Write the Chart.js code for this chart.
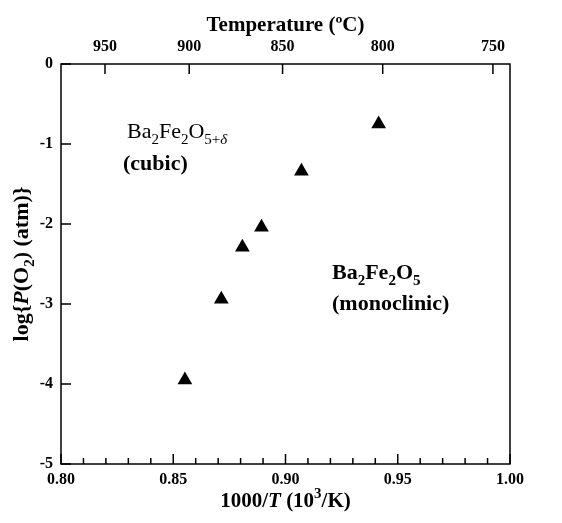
<!DOCTYPE html>
<html><head><meta charset="utf-8">
<script src="https://cdn.jsdelivr.net/npm/chart.js@4.4.1/dist/chart.umd.min.js"></script>
<style>html,body{margin:0;padding:0;background:#fff}#wrap{width:562px;height:523px;position:relative}</style>
</head><body><div id="wrap"><canvas id="c"></canvas></div>
<script>
// ---- data ----
const invT = [0.8552, 0.8714, 0.8808, 0.8893, 0.9071, 0.9415];   // 1000/T (10^3/K)
const logPO2 = [-3.95, -2.94, -2.29, -2.04, -1.34, -0.75];       // log P(O2) (atm)
const xTickValues = [0.80, 0.85, 0.90, 0.95, 1.00];
const xMinorStep = 0.01;
const yTickValues = [0, -1, -2, -3, -4, -5];
const tempTickLabels = ['950', '900', '850', '800', '750'];        // top axis (ºC)
const tempTickPos = [0.8196, 0.8571, 0.8987, 0.9433, 0.9924];    // where they sit on the 1000/T axis

const SERIF = '"Liberation Serif","Times New Roman",serif';

function drawRich(ctx, segs, x, y, size, align) {
  const parts = segs.map(s => {
    const fs = (s.sub || s.sup) ? Math.round(size * 0.7) : size;
    const font = (s.i ? 'italic ' : '') + (s.b ? 'bold ' : '') + fs + 'px ' + SERIF;
    ctx.font = font;
    return {s, font, w: ctx.measureText(s.t).width};
  });
  const total = parts.reduce((a, p) => a + p.w, 0);
  let cx = align === 'center' ? x - total / 2 : x;
  ctx.textAlign = 'left';
  ctx.textBaseline = 'alphabetic';
  for (const p of parts) {
    ctx.font = p.font;
    let dy = 0;
    if (p.s.sub) dy = size * 0.28;
    if (p.s.sup) dy = -size * 0.42;
    ctx.fillText(p.s.t, cx, y + dy);
    cx += p.w;
  }
}

const framePlugin = {
  id: 'frame',
  afterDraw(chart) {
    const {ctx, chartArea: a, scales} = chart;
    const xs = scales.x, ys = scales.y, xt = scales.xTop;
    ctx.save();
    ctx.strokeStyle = '#000';
    ctx.lineWidth = 1.5;
    ctx.strokeRect(a.left, a.top, a.right - a.left, a.bottom - a.top);
    ctx.beginPath();
    const n = Math.round((xTickValues[xTickValues.length - 1] - xTickValues[0]) / xMinorStep);
    for (let i = 0; i <= n; i++) {
      const v = xTickValues[0] + i * xMinorStep;
      const px = xs.getPixelForValue(v);
      const len = (i % 5 === 0) ? 10 : 6;
      ctx.moveTo(px, a.bottom); ctx.lineTo(px, a.bottom - len);
    }
    for (const v of yTickValues) {
      const py = ys.getPixelForValue(v);
      ctx.moveTo(a.left, py); ctx.lineTo(a.left + 10, py);
    }
    for (const v of tempTickPos) {
      const px = xt.getPixelForValue(v);
      ctx.moveTo(px, a.top); ctx.lineTo(px, a.top + 10);
    }
    ctx.stroke();

    ctx.fillStyle = '#000';
    const cxm = (a.left + a.right) / 2;
    drawRich(ctx, [{t: 'Temperature (ºC)', b: 1}], cxm, 31, 21, 'center');
    drawRich(ctx, [{t: '1000/', b: 1}, {t: 'T', b: 1, i: 1}, {t: ' (10', b: 1}, {t: '3', b: 1, sup: 1}, {t: '/K)', b: 1}], cxm, 507, 21, 'center');
    ctx.save();
    ctx.translate(28, (a.top + a.bottom) / 2);
    ctx.rotate(-Math.PI / 2);
    drawRich(ctx, [{t: 'log{', b: 1}, {t: 'P', b: 1, i: 1}, {t: '(O', b: 1}, {t: '2', b: 1, sub: 1}, {t: ') (atm)}', b: 1}], 0, 0, 22, 'center');
    ctx.restore();
    drawRich(ctx, [{t: 'Ba'}, {t: '2', sub: 1}, {t: 'Fe'}, {t: '2', sub: 1}, {t: 'O'}, {t: '5+', sub: 1}, {t: 'δ', sub: 1, i: 1}], 127, 138, 22, 'left');
    drawRich(ctx, [{t: '(cubic)', b: 1}], 123, 170, 22, 'left');
    drawRich(ctx, [{t: 'Ba', b: 1}, {t: '2', sub: 1, b: 1}, {t: 'Fe', b: 1}, {t: '2', sub: 1, b: 1}, {t: 'O', b: 1}, {t: '5', sub: 1, b: 1}], 332, 279, 22, 'left');
    drawRich(ctx, [{t: '(monoclinic)', b: 1}], 332, 310, 22, 'left');
    ctx.restore();
  }
};

const tickFont = {family: SERIF, size: 16, weight: 'bold'};

new Chart(document.getElementById('c'), {
  type: 'scatter',
  data: {
    datasets: [{
      data: invT.map((x, i) => ({x, y: logPO2[i]})),
      pointStyle: 'triangle',
      pointRadius: 8.5,
      pointHoverRadius: 8.5,
      backgroundColor: '#000',
      borderColor: '#000',
      borderWidth: 0
    }]
  },
  options: {
    responsive: true,
    maintainAspectRatio: false,
    animation: false,
    events: [],
    layout: {padding: {left: 0, right: 52, top: 0, bottom: 0}},
    plugins: {legend: {display: false}, tooltip: {enabled: false}},
    scales: {
      x: {
        type: 'linear', position: 'bottom', min: 0.8, max: 1.0,
        afterBuildTicks: s => { s.ticks = xTickValues.map(v => ({value: v})); },
        afterFit: s => { s.height = 59; },
        grid: {display: false, drawTicks: false},
        border: {display: false},
        ticks: {color: '#000', font: tickFont, padding: 6, maxRotation: 0, autoSkip: false,
                callback: v => Number(v).toFixed(2)}
      },
      xTop: {
        type: 'linear', position: 'top', min: 0.8, max: 1.0,
        afterBuildTicks: s => { s.ticks = tempTickPos.map(v => ({value: v})); },
        afterFit: s => { s.height = 64; },
        grid: {display: false, drawTicks: false},
        border: {display: false},
        ticks: {color: '#000', font: tickFont, padding: 8, maxRotation: 0, autoSkip: false,
                callback: (v, i) => tempTickLabels[i]}
      },
      y: {
        type: 'linear', position: 'left', min: -5, max: 0,
        afterBuildTicks: s => { s.ticks = yTickValues.map(v => ({value: v})); },
        afterFit: s => { s.width = 61; },
        grid: {display: false, drawTicks: false},
        border: {display: false},
        ticks: {color: '#000', font: tickFont, padding: 8, autoSkip: false,
                callback: v => String(v)}
      }
    }
  },
  plugins: [framePlugin]
});
</script>
</body></html>
